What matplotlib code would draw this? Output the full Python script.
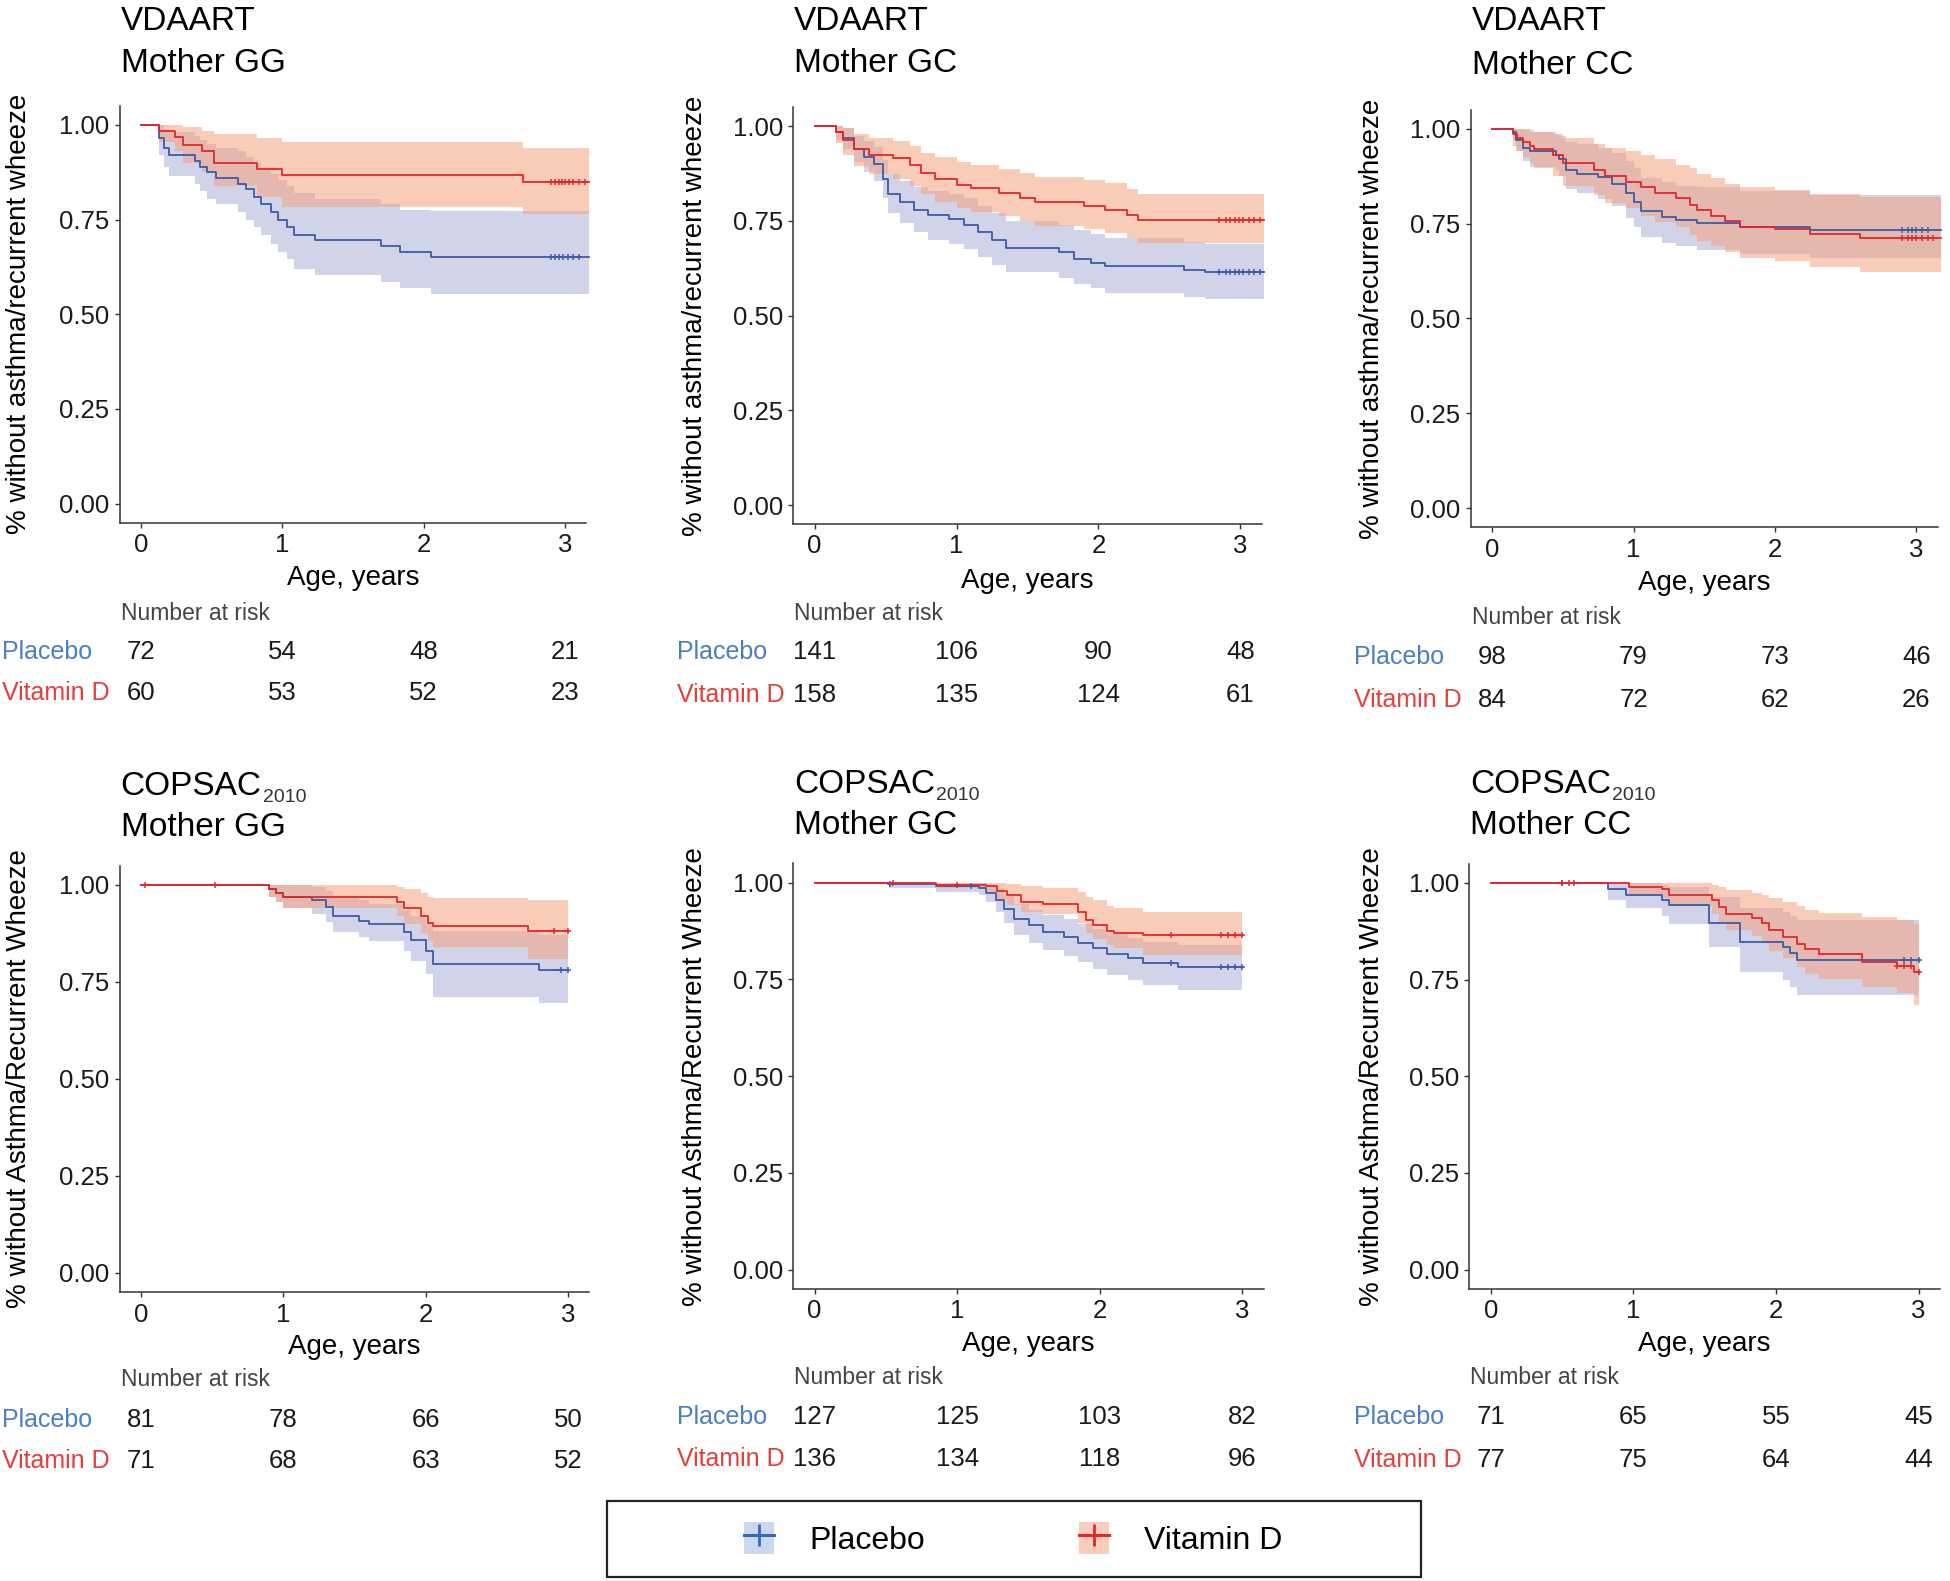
import numpy as np
import matplotlib.pyplot as plt
from matplotlib.lines import Line2D
from matplotlib.patches import Patch, Rectangle
import matplotlib.transforms as mtransforms

plt.rcParams['font.family'] = 'Liberation Sans'

# ---------------- datos ----------------
# VDAART, Mother GG
vd_gg_pla_t = [0, 0.13, 0.16, 0.2, 0.38, 0.42, 0.47, 0.53, 0.69, 0.74, 0.8, 0.85, 0.92, 0.97, 1.03, 1.08, 1.23, 1.7, 1.83, 2.05, 3.17]
vd_gg_pla_s = [1.0, 0.965, 0.94, 0.92, 0.905, 0.89, 0.875, 0.86, 0.845, 0.83, 0.81, 0.79, 0.77, 0.75, 0.73, 0.71, 0.695, 0.68, 0.665, 0.652, 0.652]
vd_gg_pla_lo = [1.0, 0.92, 0.89, 0.865, 0.845, 0.825, 0.805, 0.79, 0.77, 0.75, 0.73, 0.71, 0.685, 0.665, 0.645, 0.62, 0.605, 0.585, 0.57, 0.553, 0.553]
vd_gg_pla_hi = [1.0, 1.0, 0.99, 0.98, 0.97, 0.96, 0.95, 0.94, 0.93, 0.915, 0.9, 0.885, 0.87, 0.855, 0.84, 0.82, 0.805, 0.79, 0.776, 0.772, 0.772]
vd_gg_vit_t = [0, 0.13, 0.24, 0.3, 0.43, 0.52, 0.82, 1.0, 2.7, 3.17]
vd_gg_vit_s = [1.0, 0.985, 0.967, 0.948, 0.93, 0.90, 0.884, 0.867, 0.848, 0.848]
vd_gg_vit_lo = [1.0, 0.955, 0.93, 0.9, 0.875, 0.84, 0.81, 0.784, 0.766, 0.766]
vd_gg_vit_hi = [1.0, 1.0, 1.0, 0.995, 0.985, 0.975, 0.965, 0.955, 0.94, 0.94]
vd_gg_pla_cens = [2.9, 2.93, 2.96, 2.99, 3.02, 3.06, 3.1]
vd_gg_vit_cens = [2.9, 2.93, 2.96, 2.98, 3.0, 3.03, 3.06, 3.1, 3.14]
vd_gg_risk_pla = [72, 54, 48, 21]
vd_gg_risk_vit = [60, 53, 52, 23]

# VDAART, Mother GC
vd_gc_pla_t = [0, 0.15, 0.2, 0.28, 0.35, 0.42, 0.48, 0.52, 0.6, 0.7, 0.8, 0.95, 1.05, 1.15, 1.25, 1.35, 1.72, 1.83, 1.95, 2.05, 2.6, 2.75, 3.17]
vd_gc_pla_s = [1.0, 0.985, 0.97, 0.94, 0.92, 0.90, 0.86, 0.82, 0.80, 0.78, 0.765, 0.755, 0.74, 0.72, 0.70, 0.68, 0.667, 0.65, 0.64, 0.63, 0.62, 0.616, 0.616]
vd_gc_pla_lo = [1.0, 0.965, 0.94, 0.905, 0.88, 0.855, 0.81, 0.77, 0.745, 0.72, 0.70, 0.69, 0.675, 0.655, 0.635, 0.615, 0.60, 0.585, 0.572, 0.56, 0.55, 0.545, 0.545]
vd_gc_pla_hi = [1.0, 1.0, 0.995, 0.975, 0.96, 0.945, 0.91, 0.875, 0.855, 0.84, 0.83, 0.82, 0.81, 0.79, 0.77, 0.75, 0.74, 0.725, 0.715, 0.705, 0.695, 0.69, 0.69]
vd_gc_vit_t = [0, 0.15, 0.2, 0.28, 0.38, 0.55, 0.67, 0.75, 0.85, 1.0, 1.1, 1.3, 1.45, 1.55, 1.9, 2.05, 2.2, 2.28, 3.17]
vd_gc_vit_s = [1.0, 0.985, 0.965, 0.94, 0.925, 0.915, 0.897, 0.876, 0.86, 0.845, 0.836, 0.824, 0.812, 0.80, 0.79, 0.78, 0.766, 0.752, 0.752]
vd_gc_vit_lo = [1.0, 0.955, 0.925, 0.895, 0.875, 0.862, 0.843, 0.82, 0.80, 0.785, 0.775, 0.762, 0.75, 0.738, 0.728, 0.718, 0.705, 0.692, 0.692]
vd_gc_vit_hi = [1.0, 1.0, 0.995, 0.98, 0.97, 0.96, 0.948, 0.93, 0.918, 0.905, 0.897, 0.887, 0.877, 0.867, 0.858, 0.85, 0.835, 0.82, 0.82]
vd_gc_pla_cens = [2.85, 2.9, 2.93, 2.96, 2.99, 3.02, 3.06, 3.1, 3.14]
vd_gc_vit_cens = [2.85, 2.9, 2.93, 2.96, 2.99, 3.02, 3.06, 3.1, 3.14]
vd_gc_risk_pla = [141, 106, 90, 48]
vd_gc_risk_vit = [158, 135, 124, 61]

# VDAART, Mother CC
vd_cc_pla_t = [0, 0.15, 0.17, 0.22, 0.27, 0.45, 0.47, 0.52, 0.6, 0.75, 0.85, 0.95, 1.0, 1.05, 1.2, 1.3, 1.45, 1.75, 2.25, 3.17]
vd_cc_pla_s = [1.0, 0.99, 0.97, 0.95, 0.94, 0.93, 0.92, 0.89, 0.88, 0.873, 0.855, 0.83, 0.807, 0.782, 0.768, 0.76, 0.752, 0.742, 0.734, 0.734]
vd_cc_pla_lo = [1.0, 0.97, 0.94, 0.915, 0.90, 0.89, 0.875, 0.84, 0.83, 0.815, 0.795, 0.765, 0.74, 0.715, 0.70, 0.69, 0.68, 0.67, 0.66, 0.66]
vd_cc_pla_hi = [1.0, 1.0, 1.0, 0.995, 0.99, 0.985, 0.98, 0.965, 0.96, 0.95, 0.935, 0.915, 0.895, 0.87, 0.86, 0.85, 0.845, 0.835, 0.825, 0.825]
vd_cc_vit_t = [0, 0.15, 0.18, 0.22, 0.27, 0.3, 0.43, 0.5, 0.72, 0.8, 0.95, 1.05, 1.15, 1.3, 1.4, 1.45, 1.55, 1.65, 1.75, 2.0, 2.25, 2.6, 3.17]
vd_cc_vit_s = [1.0, 0.985, 0.975, 0.965, 0.955, 0.945, 0.93, 0.91, 0.89, 0.875, 0.86, 0.845, 0.83, 0.816, 0.80, 0.785, 0.77, 0.756, 0.742, 0.735, 0.722, 0.712, 0.712]
vd_cc_vit_lo = [1.0, 0.955, 0.94, 0.925, 0.91, 0.895, 0.875, 0.85, 0.825, 0.805, 0.79, 0.77, 0.755, 0.74, 0.72, 0.705, 0.69, 0.675, 0.66, 0.65, 0.636, 0.623, 0.623]
vd_cc_vit_hi = [1.0, 1.0, 1.0, 1.0, 0.995, 0.99, 0.985, 0.975, 0.96, 0.95, 0.94, 0.93, 0.92, 0.905, 0.895, 0.88, 0.87, 0.855, 0.845, 0.838, 0.828, 0.82, 0.82]
vd_cc_pla_cens = [2.9, 2.94, 2.97, 3.0, 3.04, 3.08]
vd_cc_vit_cens = [2.9, 2.94, 2.97, 3.0, 3.04, 3.08, 3.12]
vd_cc_risk_pla = [98, 79, 73, 46]
vd_cc_risk_vit = [84, 72, 62, 26]

# COPSAC2010, Mother GG
co_gg_pla_t = [0, 0.9, 0.95, 1.0, 1.2, 1.3, 1.35, 1.53, 1.6, 1.85, 1.9, 2.0, 2.05, 2.8, 3.0]
co_gg_pla_s = [1.0, 0.99, 0.98, 0.97, 0.96, 0.943, 0.92, 0.908, 0.898, 0.878, 0.858, 0.83, 0.795, 0.78, 0.78]
co_gg_pla_lo = [1.0, 0.97, 0.955, 0.94, 0.925, 0.905, 0.878, 0.865, 0.855, 0.83, 0.805, 0.77, 0.712, 0.695, 0.695]
co_gg_pla_hi = [1.0, 1.0, 1.0, 1.0, 0.995, 0.985, 0.97, 0.96, 0.95, 0.935, 0.92, 0.9, 0.88, 0.87, 0.87]
co_gg_vit_t = [0, 0.9, 0.95, 1.0, 1.8, 1.85, 1.97, 2.02, 2.05, 2.72, 3.0]
co_gg_vit_s = [1.0, 0.99, 0.98, 0.97, 0.955, 0.94, 0.92, 0.902, 0.895, 0.88, 0.88]
co_gg_vit_lo = [1.0, 0.97, 0.955, 0.94, 0.92, 0.9, 0.875, 0.855, 0.84, 0.81, 0.81]
co_gg_vit_hi = [1.0, 1.0, 1.0, 1.0, 0.995, 0.99, 0.98, 0.97, 0.965, 0.96, 0.96]
co_gg_pla_cens = [2.95, 3.0]
co_gg_vit_cens = [0.03, 0.52, 2.9, 3.0]
co_gg_risk_pla = [81, 78, 66, 50]
co_gg_risk_vit = [71, 68, 63, 52]

# COPSAC2010, Mother GC
co_gc_pla_t = [0, 0.52, 0.85, 1.15, 1.2, 1.27, 1.33, 1.4, 1.5, 1.6, 1.75, 1.85, 1.95, 2.05, 2.2, 2.3, 2.55, 3.0]
co_gc_pla_s = [1.0, 0.996, 0.99, 0.985, 0.973, 0.955, 0.931, 0.907, 0.89, 0.872, 0.86, 0.845, 0.83, 0.816, 0.804, 0.792, 0.783, 0.783]
co_gc_pla_lo = [1.0, 0.987, 0.975, 0.968, 0.95, 0.925, 0.895, 0.865, 0.845, 0.825, 0.81, 0.795, 0.778, 0.762, 0.748, 0.735, 0.722, 0.722]
co_gc_pla_hi = [1.0, 1.0, 1.0, 1.0, 0.995, 0.985, 0.965, 0.945, 0.93, 0.915, 0.905, 0.892, 0.88, 0.868, 0.858, 0.847, 0.84, 0.84]
co_gc_vit_t = [0, 0.85, 1.2, 1.28, 1.35, 1.45, 1.6, 1.85, 1.9, 1.95, 2.05, 2.1, 2.3, 3.0]
co_gc_vit_s = [1.0, 0.995, 0.99, 0.979, 0.967, 0.95, 0.945, 0.925, 0.904, 0.89, 0.875, 0.87, 0.864, 0.864]
co_gc_vit_lo = [1.0, 0.985, 0.975, 0.958, 0.943, 0.925, 0.918, 0.895, 0.87, 0.855, 0.838, 0.83, 0.812, 0.812]
co_gc_vit_hi = [1.0, 1.0, 1.0, 1.0, 0.997, 0.99, 0.985, 0.975, 0.962, 0.955, 0.94, 0.935, 0.925, 0.925]
co_gc_pla_cens = [0.53, 1.1, 2.5, 2.85, 2.9, 2.95, 3.0]
co_gc_vit_cens = [0.55, 1.0, 2.5, 2.85, 2.9, 2.95, 3.0]
co_gc_risk_pla = [127, 125, 103, 82]
co_gc_risk_vit = [136, 134, 118, 96]

# COPSAC2010, Mother CC
co_cc_pla_t = [0, 0.82, 0.95, 1.2, 1.25, 1.53, 1.75, 2.05, 2.1, 2.15, 3.0]
co_cc_pla_s = [1.0, 0.985, 0.97, 0.956, 0.943, 0.897, 0.847, 0.834, 0.818, 0.80, 0.80]
co_cc_pla_lo = [1.0, 0.955, 0.935, 0.915, 0.895, 0.835, 0.77, 0.75, 0.73, 0.71, 0.71]
co_cc_pla_hi = [1.0, 1.0, 1.0, 0.995, 0.99, 0.965, 0.935, 0.925, 0.915, 0.905, 0.905]
co_cc_vit_t = [0, 0.97, 1.2, 1.25, 1.55, 1.6, 1.65, 1.83, 1.9, 1.95, 2.05, 2.15, 2.2, 2.3, 2.6, 2.85, 2.97, 3.0]
co_cc_vit_s = [1.0, 0.989, 0.984, 0.97, 0.956, 0.938, 0.92, 0.909, 0.897, 0.879, 0.861, 0.843, 0.828, 0.816, 0.796, 0.786, 0.77, 0.77]
co_cc_vit_lo = [1.0, 0.97, 0.96, 0.94, 0.92, 0.9, 0.878, 0.862, 0.845, 0.825, 0.805, 0.783, 0.765, 0.752, 0.73, 0.715, 0.685, 0.685]
co_cc_vit_hi = [1.0, 1.0, 1.0, 1.0, 0.995, 0.99, 0.982, 0.975, 0.97, 0.962, 0.952, 0.94, 0.93, 0.922, 0.912, 0.905, 0.895, 0.895]
co_cc_pla_cens = [0.5, 2.9, 2.95, 3.0]
co_cc_vit_cens = [0.5, 0.55, 0.58, 2.85, 2.9, 2.95, 3.0]
co_cc_risk_pla = [71, 65, 55, 45]
co_cc_risk_vit = [77, 75, 64, 44]

risk_times = [0, 1, 2, 3]
group_names = ['Placebo', 'Vitamin D']
study_names = ['VDAART', 'VDAART', 'VDAART', 'COPSAC', 'COPSAC', 'COPSAC']
study_subs = ['', '', '', '2010', '2010', '2010']
genotypes = ['Mother GG', 'Mother GC', 'Mother CC', 'Mother GG', 'Mother GC', 'Mother CC']
ylabel_top = '% without asthma/recurrent wheeze'
ylabel_bottom = '% without Asthma/Recurrent Wheeze'

panels = [
    (vd_gg_pla_t, vd_gg_pla_s, vd_gg_pla_lo, vd_gg_pla_hi, vd_gg_pla_cens,
     vd_gg_vit_t, vd_gg_vit_s, vd_gg_vit_lo, vd_gg_vit_hi, vd_gg_vit_cens, vd_gg_risk_pla, vd_gg_risk_vit),
    (vd_gc_pla_t, vd_gc_pla_s, vd_gc_pla_lo, vd_gc_pla_hi, vd_gc_pla_cens,
     vd_gc_vit_t, vd_gc_vit_s, vd_gc_vit_lo, vd_gc_vit_hi, vd_gc_vit_cens, vd_gc_risk_pla, vd_gc_risk_vit),
    (vd_cc_pla_t, vd_cc_pla_s, vd_cc_pla_lo, vd_cc_pla_hi, vd_cc_pla_cens,
     vd_cc_vit_t, vd_cc_vit_s, vd_cc_vit_lo, vd_cc_vit_hi, vd_cc_vit_cens, vd_cc_risk_pla, vd_cc_risk_vit),
    (co_gg_pla_t, co_gg_pla_s, co_gg_pla_lo, co_gg_pla_hi, co_gg_pla_cens,
     co_gg_vit_t, co_gg_vit_s, co_gg_vit_lo, co_gg_vit_hi, co_gg_vit_cens, co_gg_risk_pla, co_gg_risk_vit),
    (co_gc_pla_t, co_gc_pla_s, co_gc_pla_lo, co_gc_pla_hi, co_gc_pla_cens,
     co_gc_vit_t, co_gc_vit_s, co_gc_vit_lo, co_gc_vit_hi, co_gc_vit_cens, co_gc_risk_pla, co_gc_risk_vit),
    (co_cc_pla_t, co_cc_pla_s, co_cc_pla_lo, co_cc_pla_hi, co_cc_pla_cens,
     co_cc_vit_t, co_cc_vit_s, co_cc_vit_lo, co_cc_vit_hi, co_cc_vit_cens, co_cc_risk_pla, co_cc_risk_vit),
]

# ---------------- estilo ----------------
pla_line = '#3b5ca8'
vit_line = '#e3272b'
pla_fill = '#8d92c9'
vit_fill = '#f5a27f'
pla_text = '#4a7fc0'
vit_text = '#e2403c'

W, H = 1950, 1581

def fx(x):
    return x / W

def fy(y):
    return 1 - y / H

# posiciones en pixeles: origen x=0, pixeles por año, y=1.00, pixeles por unidad, textos
layout = [
    dict(x0=141, u=141.3, y1=124.9, v=378.8, t1=30, t2=72, xl=578, nr=613, r1=652, r2=693, rl=2, yl=18.7),
    dict(x0=814.6, u=141.9, y1=126.3, v=378.8, t1=30, t2=72, xl=581, nr=613, r1=652, r2=695.5, rl=676.6, yl=695),
    dict(x0=1492, u=141.5, y1=128.6, v=379.7, t1=30.5, t2=74, xl=583, nr=617.5, r1=656.6, r2=700, rl=1354, yl=1372),
    dict(x0=141, u=142.3, y1=884.9, v=388, t1=795, t2=836, xl=1346.8, nr=1379.8, r1=1419.8, r2=1461, rl=2, yl=18.7),
    dict(x0=814.6, u=142.6, y1=882.6, v=387, t1=793, t2=834, xl=1344, nr=1377.5, r1=1416.6, r2=1458.8, rl=676.6, yl=695),
    dict(x0=1490.8, u=142.6, y1=883, v=386.6, t1=793, t2=834, xl=1344, nr=1377.5, r1=1417.5, r2=1460, rl=1354, yl=1372),
]

def surv_at(t, s, c):
    i = np.searchsorted(t, c, side='right') - 1
    return s[i]

fig = plt.figure(figsize=(19.5, 15.81), dpi=100)
renderer = fig.canvas.get_renderer()

for k, (p, g) in enumerate(zip(panels, layout)):
    (pt, ps, plo, phi, pc, vt, vs, vlo, vhi, vc, rp, rv) = p
    L = g['x0'] - 0.15 * g['u']
    R = g['x0'] + 3.15 * g['u']
    T = g['y1'] - 0.05 * g['v']
    B = g['y1'] + 1.05 * g['v']
    ax = fig.add_axes([fx(L), fy(B), (R - L) / W, (B - T) / H])

    # bandas de confianza y curvas de Kaplan-Meier
    ax.fill_between(pt, plo, phi, step='post', color=pla_fill, alpha=0.4, lw=0, clip_on=False)
    ax.fill_between(vt, vlo, vhi, step='post', color=vit_fill, alpha=0.55, lw=0, clip_on=False)
    ax.step(pt, ps, where='post', color=pla_line, lw=1.3, clip_on=False)
    ax.step(vt, vs, where='post', color=vit_line, lw=1.3, clip_on=False)
    ax.plot(pc, [surv_at(pt, ps, c) for c in pc], ls='none', marker='+', ms=5, mew=1.1,
            color=pla_line, clip_on=False)
    ax.plot(vc, [surv_at(vt, vs, c) for c in vc], ls='none', marker='+', ms=5, mew=1.1,
            color=vit_line, clip_on=False)

    ax.set_xlim(-0.15, 3.15)
    ax.set_ylim(-0.05, 1.05)
    ax.set_xticks([0, 1, 2, 3])
    ax.set_yticks([0, 0.25, 0.5, 0.75, 1.0])
    ax.set_yticklabels(['0.00', '0.25', '0.50', '0.75', '1.00'])
    for side in ['top', 'right']:
        ax.spines[side].set_visible(False)
    for side in ['left', 'bottom']:
        ax.spines[side].set_color('#333333')
        ax.spines[side].set_linewidth(1.1)
    ax.tick_params(direction='out', length=3.6, width=1, color='#333333',
                   labelsize=18.5, labelcolor='#1a1a1a', pad=3.8)

    # titulos (con subindice pequeño para COPSAC2010)
    t1 = fig.text(fx(L + 1), fy(g['t1']), study_names[k], fontsize=24, ha='left', va='baseline')
    if study_subs[k]:
        bb = t1.get_window_extent(renderer)
        fig.text(fx(L + 1 + bb.width + 1), fy(g['t1'] + 7), study_subs[k], fontsize=14,
                 ha='left', va='baseline', color='#333333')
    fig.text(fx(L + 1), fy(g['t2']), genotypes[k], fontsize=24, ha='left', va='baseline')

    # etiquetas de ejes
    fig.text(fx((L + R) / 2), fy(g['xl']), 'Age, years', fontsize=20, ha='center', va='center')
    ylab = ylabel_top if k < 3 else ylabel_bottom
    fig.text(fx(g['yl']), fy((T + B) / 2), ylab, fontsize=20, rotation=90, ha='center', va='center')

    # tabla de numero en riesgo
    fig.text(fx(L + 1), fy(g['nr']), 'Number at risk', fontsize=16.5, color='#444444',
             ha='left', va='center')
    fig.text(fx(g['rl']), fy(g['r1']), group_names[0], fontsize=18, color=pla_text, ha='left', va='center')
    fig.text(fx(g['rl']), fy(g['r2']), group_names[1], fontsize=18, color=vit_text, ha='left', va='center')
    trans = mtransforms.blended_transform_factory(ax.transData, fig.transFigure)
    for xt, n1, n2 in zip(risk_times, rp, rv):
        ax.text(xt, fy(g['r1']), str(n1), transform=trans, fontsize=18.5, ha='center', va='center',
                color='#1a1a1a', clip_on=False)
        ax.text(xt, fy(g['r2']), str(n2), transform=trans, fontsize=18.5, ha='center', va='center',
                color='#1a1a1a', clip_on=False)

# leyenda inferior con marco
fig.patches.append(Rectangle((fx(607), fy(1577)), (1421 - 607) / W, (1577 - 1501) / H,
                             transform=fig.transFigure, fill=False, edgecolor='#222222', lw=1.6))
keys = [(744, group_names[0], '#ccd8ee', '#2f6db5'), (1079, group_names[1], '#f9cdbb', vit_line)]
for xk, name, fc, lc in keys:
    h = (Patch(facecolor=fc, edgecolor='none'),
         Line2D([], [], color=lc, lw=2.2, marker='+', ms=16, mew=2.0))
    fig.legend([h], [name], loc='center left', bbox_to_anchor=(fx(xk), fy(1539)),
               frameon=False, fontsize=23, handlelength=0.95, handleheight=1.15,
               handletextpad=1.1, borderpad=0, borderaxespad=0)

fig.savefig('out.png', dpi=100)
